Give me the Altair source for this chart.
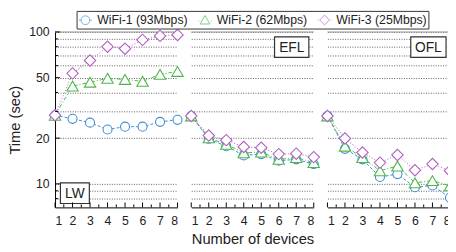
import altair as alt
import pandas as pd

x_vals = [1, 2, 3, 4, 5, 6, 7, 8]
series = ["WiFi-1 (93Mbps)", "WiFi-2 (62Mbps)", "WiFi-3 (25Mbps)"]
panels = ["LW", "EFL", "OFL"]

lw_wifi1 = [28.3, 26.8, 25.3, 22.8, 23.8, 23.8, 25.6, 26.4]
lw_wifi2 = [28.3, 44.0, 46.7, 49.5, 48.7, 47.3, 52.6, 55.0]
lw_wifi3 = [28.3, 53.4, 64.9, 80.0, 77.6, 88.7, 94.2, 95.6]
efl_wifi1 = [28.0, 19.8, 17.7, 15.4, 15.7, 14.2, 14.5, 13.5]
efl_wifi2 = [28.0, 20.1, 18.2, 16.0, 16.2, 14.5, 14.9, 13.8]
efl_wifi3 = [28.0, 20.8, 19.4, 17.5, 17.3, 15.7, 15.8, 15.0]
ofl_wifi1 = [28.0, 17.0, 14.5, 11.1, 11.6, 9.5, 9.75, 8.1]
ofl_wifi2 = [28.0, 17.7, 14.9, 12.2, 13.1, 10.15, 10.5, 9.7]
ofl_wifi3 = [28.0, 19.9, 16.1, 13.8, 15.5, 12.3, 13.5, 12.2]

grid_vals = [8, 9, 10, 20, 30, 40, 50, 60, 70, 80, 90, 100]
ytick_major = [10, 20, 50, 100]
ytick_minor = [8, 9, 30, 40, 60, 70, 80, 90]
xtick_major = [1, 2, 3, 4, 5, 6, 7, 8]
xtick_minor = [1.5, 2.5, 3.5, 4.5, 5.5, 6.5, 7.5]

colors = ["#3d8fd6", "#4fb54a", "#b060c0"]
shapes = ["circle", "triangle-up", "diamond"]
sizes = [85, 135, 135]
dashes = [[3, 2], [4, 2, 1, 2], [1, 2]]
legend_paths = [
    "M-0.95,0L-0.64,0M0.64,0L0.95,0M0.64,0A0.64,0.64,0,1,1,-0.64,0A0.64,0.64,0,1,1,0.64,0Z",
    "M-0.99,0.12L-0.84,0.12M0.84,0.12L0.99,0.12M0,-0.69L0.71,0.55L-0.71,0.55Z",
    "M-0.99,0L-0.87,0M0.87,0L0.99,0M0,-0.71L0.71,0L0,0.71L-0.71,0Z",
]

W, H = 125, 179
FONT = "Liberation Sans"
TXT = "#222"

label_boxes = {
    "LW": (5.5, 35, 154, 175),
    "EFL": (85, 120, 5, 26),
    "OFL": (85, 121, 5, 26),
}


def make_panel(idx, name, vals):
    df = pd.DataFrame({
        "x": x_vals * 3,
        "y": vals[0] + vals[1] + vals[2],
        "series": [s for s in series for _ in x_vals],
    })
    yscale = alt.Scale(type="log", domain=[7, 100], nice=False)
    xscale = alt.Scale(domain=[1, 8], nice=False, zero=False)
    if idx == 0:
        yaxis = alt.Axis(values=grid_vals,
                         labelExpr="(datum.value==10||datum.value==20||datum.value==50||datum.value==100) ? ''+datum.value : ''",
                         ticks=False, tickSize=0, domain=True, domainColor="black",
                         grid=True, gridDash=[1, 1.5], gridColor="#333", gridWidth=0.8,
                         labelFontSize=12.5, labelPadding=6, labelColor=TXT, labelFont=FONT,
                         title="Time (sec)", titleFontSize=15, titleFont=FONT,
                         titleFontWeight="normal", titleColor=TXT, titlePadding=6)
    else:
        yaxis = alt.Axis(values=grid_vals, labels=False, ticks=False, tickSize=0,
                         domain=False, grid=True, gridDash=[1, 1.5], gridColor="#333",
                         gridWidth=0.8, title=None)
    xaxis = alt.Axis(values=x_vals, ticks=False, tickSize=0, domain=True, domainColor="black",
                     grid=False, labelFontSize=12.5, labelPadding=7, labelColor=TXT,
                     labelFont=FONT, title=("Number of devices" if idx == 1 else None),
                     titleFontSize=15, titleFont=FONT, titleFontWeight="normal",
                     titleColor=TXT, titlePadding=5)
    X = alt.X("x:Q", scale=xscale, axis=xaxis)
    Y = alt.Y("y:Q", scale=yscale, axis=yaxis)

    layers = []
    top = alt.Chart(pd.DataFrame({"y": [100]})).mark_rule(color="#999", strokeWidth=1).encode(y=Y)
    layers.append(top)
    for i, s in enumerate(series):
        layers.append(
            alt.Chart(df).transform_filter(alt.datum.series == s)
            .mark_line(color=colors[i], strokeWidth=1, strokeDash=dashes[i])
            .encode(x=X, y=Y)
        )
    for i, s in enumerate(series):
        layers.append(
            alt.Chart(df).transform_filter(alt.datum.series == s)
            .mark_point(shape=shapes[i], size=sizes[i], fill="white", fillOpacity=1,
                        stroke=colors[i], strokeWidth=1.1, opacity=1)
            .encode(x=X, y=Y)
        )
    bx0, bx1, by0, by1 = label_boxes[name]
    ldf = pd.DataFrame({"label": [name]})
    layers.append(alt.Chart(ldf).mark_rect(fill="white", stroke="#333", strokeWidth=1.2)
                  .encode(x=alt.value(bx0), x2=alt.value(bx1), y=alt.value(by0), y2=alt.value(by1)))
    layers.append(alt.Chart(ldf).mark_text(fontSize=14, font=FONT, color=TXT)
                  .encode(text="label:N", x=alt.value((bx0 + bx1) / 2), y=alt.value((by0 + by1) / 2 + 0.5)))
    if idx == 0:
        layers.append(alt.Chart(pd.DataFrame({"y": ytick_major})).mark_rule(color="black")
                      .encode(y=Y, x=alt.value(0), x2=alt.value(5)))
        layers.append(alt.Chart(pd.DataFrame({"y": ytick_minor})).mark_rule(color="black")
                      .encode(y=Y, x=alt.value(0), x2=alt.value(3)))
    layers.append(alt.Chart(pd.DataFrame({"x": xtick_major})).mark_rule(color="black")
                  .encode(x=X, y=alt.value(H), y2=alt.value(H - 5)))
    layers.append(alt.Chart(pd.DataFrame({"x": xtick_minor})).mark_rule(color="black")
                  .encode(x=X, y=alt.value(H), y2=alt.value(H - 3)))
    if idx == 0:
        leg = alt.Legend(orient="none", legendX=22, legendY=-21.5, direction="horizontal",
                         columns=3, columnPadding=8, symbolSize=196, symbolStrokeWidth=1,
                         labelFontSize=12.5, labelFont=FONT, labelColor=TXT, labelOffset=4.5,
                         padding=1.5, strokeColor="#333", fillColor="white", title=None)
        layers.append(
            alt.Chart(pd.DataFrame({"series": series})).transform_filter("false")
            .mark_point(filled=False, strokeWidth=1)
            .encode(color=alt.Color("series:N", scale=alt.Scale(domain=series, range=colors), legend=leg),
                    shape=alt.Shape("series:N", scale=alt.Scale(domain=series, range=legend_paths), legend=leg))
        )
    return alt.layer(*layers).properties(width=W, height=H)


all_vals = [
    [lw_wifi1, lw_wifi2, lw_wifi3],
    [efl_wifi1, efl_wifi2, efl_wifi3],
    [ofl_wifi1, ofl_wifi2, ofl_wifi3],
]
chart = alt.hconcat(*[make_panel(i, p, all_vals[i]) for i, p in enumerate(panels)],
                    spacing=14, bounds="flush")
chart = chart.properties(padding={"left": 0, "top": 0, "right": -11, "bottom": 0}).configure_view(stroke=None)
chart.save("out.html", embed_options={"renderer": "svg", "actions": False})
